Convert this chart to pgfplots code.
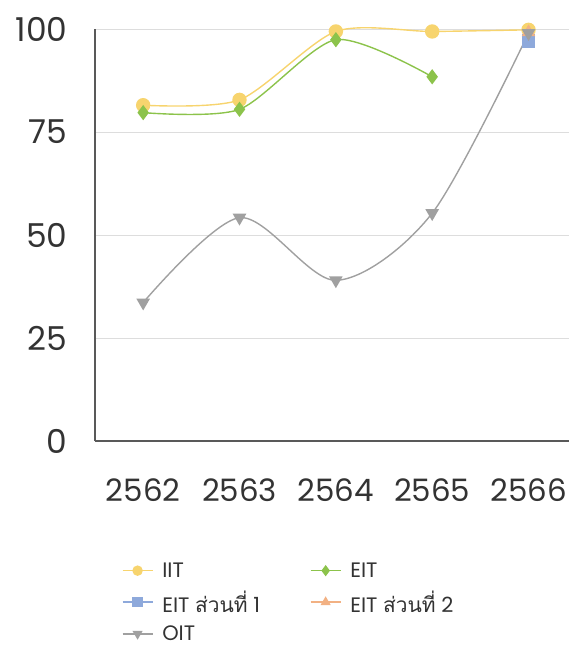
\documentclass[border=0pt]{standalone}
\usepackage{fontspec}
\setmainfont{Poppins}
\newfontfamily\thaifont[Script=Thai]{Loma}
\usepackage{pgfplots}
\pgfplotsset{compat=1.18}
\definecolor{ciit}{HTML}{F7D46E}
\definecolor{ceit}{HTML}{8CC34B}
\definecolor{ceitA}{HTML}{8EA9DB}
\definecolor{ceitB}{HTML}{F2B183}
\definecolor{coit}{HTML}{A0A0A0}
\definecolor{cgrid}{HTML}{DDDDDD}
\definecolor{ctext}{HTML}{333333}
\begin{document}
\begin{tikzpicture}
\begin{axis}[
  scale only axis, width=474bp, height=412bp,
  xmin=-0.5, xmax=4.42, ymin=0, ymax=100,
  axis x line*=bottom, axis y line*=left,
  axis line style={color=black!65, line width=1.2pt},
  xtick={0,1,2,3,4}, xticklabels={2562,2563,2564,2565,2566},
  ytick={0,25,50,75,100},
  ymajorgrids, grid style={cgrid, line width=0.9pt},
  major tick length=0pt,
  tick label style={font=\fontsize{31}{33}\selectfont, color=ctext},
  x tick label style={yshift=-34bp},
  y tick label style={xshift=-24bp, font=\fontsize{33}{35}\selectfont},
  /pgf/number format/assume math mode=true,
  clip=false,
  legend columns=2,
  legend style={draw=none, at={(0.05,-0.285)}, anchor=north west,
    font=\fontsize{21}{24}\selectfont, text=ctext,
    /tikz/every odd column/.append style={column sep=7bp},
    /tikz/every even column/.append style={column sep=48bp},
    row sep=8bp},
  legend cell align=left,
  legend image code/.code={%
    \draw[mark repeat=2,mark phase=2,#1,mark size=4.5bp,line width=1.4pt]
      plot coordinates {(0bp,0bp)(15bp,0bp)(30bp,0bp)};},
  every axis plot/.append style={line width=1.4pt},
]
\addplot[ciit, smooth, tension=0.45, mark=*, mark size=6.5bp, mark options={fill=ciit, draw=ciit}]
  coordinates {(0,81.5)(1,82.8)(2,99.4)(3,99.4)(4,99.8)};
\addlegendentry{IIT}
\addplot[ceit, smooth, tension=0.45, mark=diamond*, mark size=6.5bp, mark options={fill=ceit, draw=ceit}]
  coordinates {(0,79.7)(1,80.5)(2,97.4)(3,88.4)};
\addlegendentry{EIT}
\addplot[ceitA, mark=square*, mark size=6bp, mark options={fill=ceitA, draw=ceitA}]
  coordinates {(4,97.1)};
\addlegendentry{EIT {\thaifont ส่วนที่} 1}
\addplot[ceitB, mark=triangle*, mark size=6.5bp, mark options={fill=ceitB, draw=ceitB}]
  coordinates {(4,99.2)};
\addlegendentry{EIT {\thaifont ส่วนที่} 2}
\addplot[coit, smooth, mark=triangle*, mark size=6.5bp, mark options={fill=coit, draw=coit, rotate=180}]
  coordinates {(0,33.6)(1,54.2)(2,39.0)(3,55.3)(4,99.0)};
\addlegendentry{OIT}
\path (rel axis cs:0,0) coordinate (o);
\end{axis}
\path[use as bounding box] (o) ++(-95bp,-212bp) rectangle ++(569bp,653bp);
\end{tikzpicture}
\end{document}
